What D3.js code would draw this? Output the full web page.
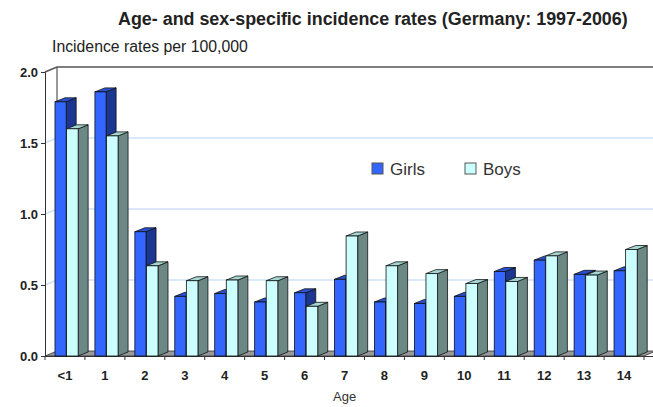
<!DOCTYPE html>
<html><head><meta charset="utf-8">
<script src="https://cdn.jsdelivr.net/npm/d3@7"></script>
<style>body{margin:0;background:#fff}svg{display:block}</style>
</head><body>
<script>
const categories = ["<1","1","2","3","4","5","6","7","8","9","10","11","12","13","14"];
const girls = [1.79,1.86,0.875,0.42,0.44,0.38,0.445,0.54,0.38,0.37,0.42,0.595,0.675,0.575,0.60];
const boys  = [1.60,1.55,0.635,0.53,0.535,0.53,0.35,0.845,0.635,0.58,0.51,0.525,0.705,0.57,0.75];
const yTicks = [0,0.5,1.0,1.5,2.0];
const seriesNames = ["Girls","Boys"];

const W=653,H=407;
const svg=d3.select("body").append("svg").attr("width",W).attr("height",H);
const font="Liberation Sans, Arial, sans-serif";
const x=d3.scaleBand().domain(categories).range([45,644]).padding(0);
const y=d3.scaleLinear().domain([0,2]).range([356,72]);
const WDX=12,WDY=-5, BDX=10,BDY=-4;

function fitText(sel,target){const l=sel.node().getComputedTextLength();const fs=parseFloat(sel.attr("font-size"));sel.attr("font-size",fs*target/l);}

// Title
fitText(svg.append("text").attr("x",118).attr("y",25).attr("font-family",font).attr("font-weight","bold")
  .attr("font-size",13).attr("fill","#222").text("Age- and sex-specific incidence rates (Germany: 1997-2006)"),510);
fitText(svg.append("text").attr("x",52).attr("y",52).attr("font-family",font)
  .attr("font-size",11).attr("fill","#222").text("Incidence rates per 100,000"),196);

// floor
const x0=45,x1=644;
svg.append("path").attr("d",`M${x0},${y(0)}L${x1},${y(0)}L${x1+WDX},${y(0)+WDY}L${x0+WDX},${y(0)+WDY}Z`)
  .attr("fill","#9a9a9a").attr("stroke","#333").attr("stroke-width",0.8);

// gridlines on walls
yTicks.filter(t=>t>0&&t<2).forEach(t=>{
  svg.append("path").attr("d",`M${x0},${y(t)}L${x0+WDX},${y(t)+WDY}L${W},${y(t)+WDY}`)
   .attr("fill","none").attr("stroke","#cfe0fa").attr("stroke-width",1.5);
});
// wall edges
svg.append("path").attr("d",`M${x0},${y(2)}L${x0+WDX},${y(2)+WDY}L${W},${y(2)+WDY}`)
  .attr("fill","none").attr("stroke","#555").attr("stroke-width",1.5);
svg.append("line").attr("x1",x0+WDX).attr("x2",x0+WDX).attr("y1",y(2)+WDY).attr("y2",y(0)+WDY)
  .attr("stroke","#555").attr("stroke-width",1.2);

// y axis
const yAxis=svg.append("g").attr("transform",`translate(${x0},0)`)
  .call(d3.axisLeft(y).tickValues(yTicks).tickFormat(d3.format(".1f")).tickSize(4).tickPadding(3));
yAxis.select(".domain").attr("stroke","#333");
yAxis.selectAll("line").attr("stroke","#333");
yAxis.selectAll("text").attr("font-family",font).attr("font-weight","bold").attr("font-size",13).attr("fill","#222");

// x axis (front floor edge)
const xAxis=svg.append("g").attr("transform",`translate(0,${y(0)})`)
  .call(d3.axisBottom(x).tickSize(0).tickPadding(15));
xAxis.select(".domain").attr("stroke","#333").attr("d",`M${x0},0.5H${W}`);
xAxis.selectAll("text").attr("font-family",font).attr("font-weight","bold").attr("font-size",13).attr("fill","#222");
svg.append("g").selectAll("line").data(d3.range(categories.length+1)).join("line")
  .attr("x1",i=>x0+i*x.bandwidth()).attr("x2",i=>x0+i*x.bandwidth())
  .attr("y1",y(0)).attr("y2",y(0)+4).attr("stroke","#333");

svg.append("text").attr("x",333).attr("y",401).attr("font-family",font).attr("font-size",13)
  .attr("fill","#333").text("Age");

// bars
const bw=x.bandwidth();
const styles=[{front:"#3366ff",side:"#1b3791",top:"#2a4fd0"},{front:"#ccffff",side:"#6b8884",top:"#a6d6d2"}];
function bar(g,bx,w,v,st){
  const yt=y(v),yb=y(0);
  g.append("path").attr("d",`M${bx+w},${yb}L${bx+w+BDX},${yb+BDY}L${bx+w+BDX},${yt+BDY}L${bx+w},${yt}Z`)
   .attr("fill",st.side).attr("stroke","#111").attr("stroke-width",0.8);
  g.append("path").attr("d",`M${bx},${yt}L${bx+BDX},${yt+BDY}L${bx+w+BDX},${yt+BDY}L${bx+w},${yt}Z`)
   .attr("fill",st.top).attr("stroke","#111").attr("stroke-width",0.8);
  g.append("rect").attr("x",bx).attr("y",yt).attr("width",w).attr("height",yb-yt)
   .attr("fill",st.front).attr("stroke","#111").attr("stroke-width",0.8);
}
const bars=svg.append("g");
categories.forEach((c,i)=>{
  const g=bars.append("g");
  bar(g,x(c)+bw*0.25,bw*0.28,girls[i],styles[0]);
  bar(g,x(c)+bw*0.25+bw*0.29,bw*0.29,boys[i],styles[1]);
});

// legend
const leg=[{x:372,t:seriesNames[0],st:styles[0]},{x:465,t:seriesNames[1],st:styles[1]}];
leg.forEach(l=>{
  svg.append("rect").attr("x",l.x).attr("y",163).attr("width",11).attr("height",11)
    .attr("fill",l.st.front).attr("stroke","#555").attr("stroke-width",1);
  svg.append("text").attr("x",l.x+18).attr("y",174.5).attr("font-family",font).attr("font-size",17)
    .attr("fill","#333").text(l.t);
});
</script>
</body></html>
